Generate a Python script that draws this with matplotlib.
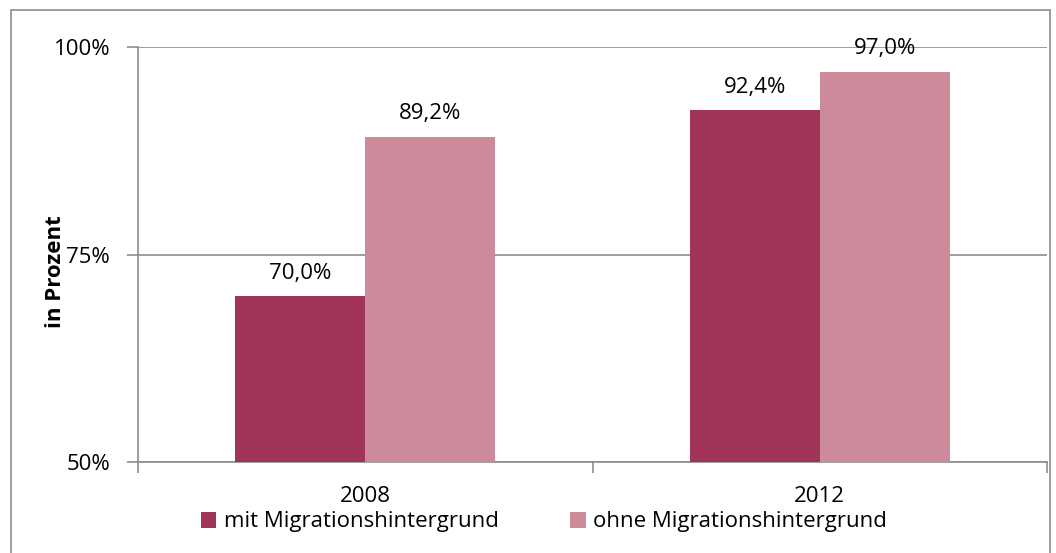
import numpy as np
import matplotlib.pyplot as plt
from matplotlib.patches import Rectangle

# Data
jahre = ['2008', '2012']
mit_migration = [70.0, 92.4]
ohne_migration = [89.2, 97.0]
serien = ['mit Migrationshintergrund', 'ohne Migrationshintergrund']
farben = ['#A33459', '#CC8A9B']
y_ticks = [50, 75, 100]

plt.rcParams['font.family'] = ['Open Sans', 'DejaVu Sans']
fs = 16

fig = plt.figure(figsize=(10.56, 5.53), dpi=100)
# outer frame
fig.patches.append(Rectangle((11 / 1056, -0.01), (1039 / 1056), 1 - 10 / 553 + 0.01,
                             transform=fig.transFigure, fill=False,
                             edgecolor='#8c8c8c', linewidth=1.2))

ax = fig.add_axes([138 / 1056, 1 - 462 / 553, (1047 - 138) / 1056, (462 - 47) / 553])

x = np.arange(len(jahre))
w = 0.286
b1 = ax.bar(x - w / 2, mit_migration, w, color=farben[0], label=serien[0], zorder=3)
b2 = ax.bar(x + w / 2, ohne_migration, w, color=farben[1], label=serien[1], zorder=3)

for bars, vals in [(b1, mit_migration), (b2, ohne_migration)]:
    for rect, v in zip(bars, vals):
        ax.text(rect.get_x() + rect.get_width() / 2, v + 1.5, f'{v:.1f}%'.replace('.', ','),
                ha='center', va='bottom', fontsize=fs, zorder=4)

ax.set_xlim(-0.5, 1.5)
ax.set_ylim(50, 100)
ax.set_yticks(y_ticks)
ax.set_yticklabels([f'{t}%' for t in y_ticks], fontsize=fs)
ax.yaxis.grid(True, color='#8c8c8c', linewidth=1.2, zorder=0)
ax.set_xticks(x)
ax.set_xticklabels(jahre, fontsize=fs)
ax.set_xticks([-0.5, 0.5, 1.5], minor=True)
ax.tick_params(axis='x', which='major', length=0, pad=17)
ax.tick_params(axis='x', which='minor', length=8, color='#8c8c8c', width=1.2)
ax.tick_params(axis='y', length=8, color='#8c8c8c', width=1.2, pad=12)

for s in ['top', 'right']:
    ax.spines[s].set_visible(False)
for s in ['left', 'bottom']:
    ax.spines[s].set_color('#8c8c8c')
    ax.spines[s].set_linewidth(1.2)

ax.set_ylabel('in Prozent', fontsize=fs, fontweight='bold', va='center')
ax.yaxis.set_label_coords(-0.091, 0.458)

fig.legend(loc='center', bbox_to_anchor=(544 / 1056, 1 - 522 / 553), ncol=2, frameon=False,
           fontsize=fs, handlelength=0.7, handleheight=0.7, handletextpad=0.35,
           columnspacing=3.2, borderpad=0)

fig.savefig('out.png', dpi=100)
